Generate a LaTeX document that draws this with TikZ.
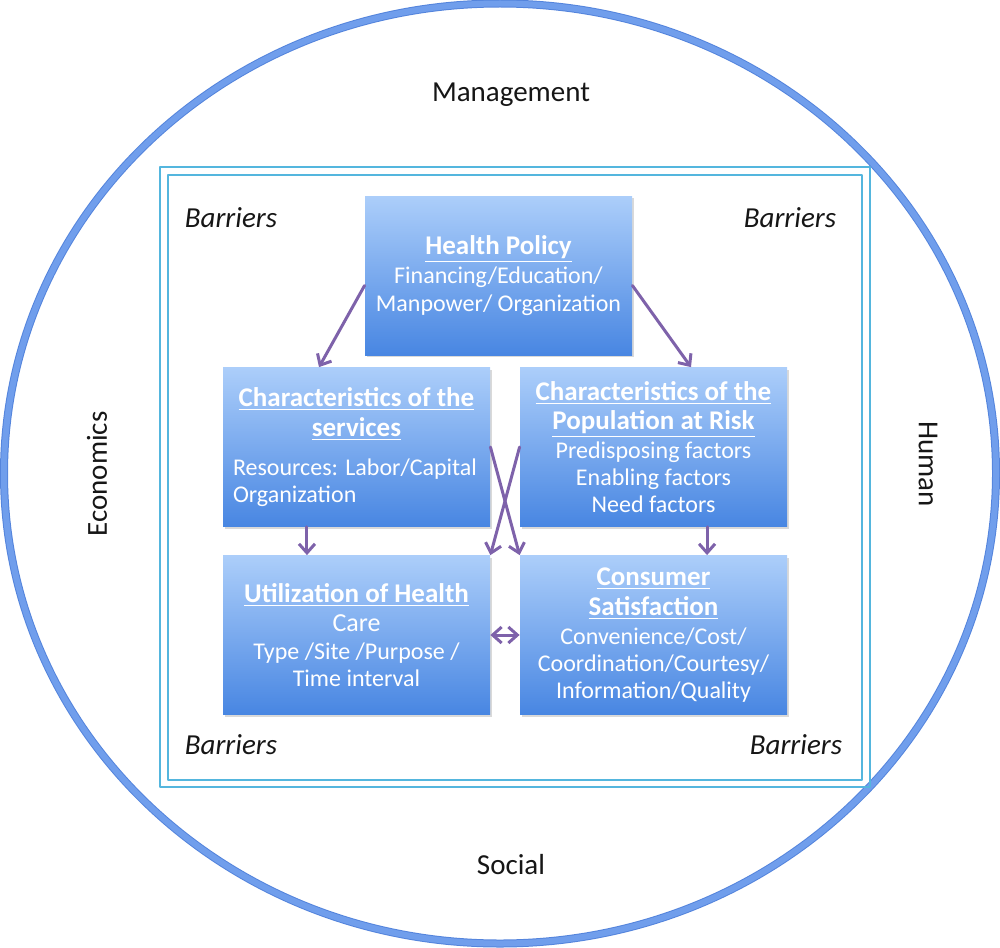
\documentclass[tikz,border=0pt]{standalone}
\usepackage{fontspec}
\setmainfont{Carlito}
\usetikzlibrary{arrows.meta,calc,shadows}
\definecolor{ring}{RGB}{112,158,236}
\definecolor{ringrand}{RGB}{84,132,220}
\definecolor{rahmen}{RGB}{84,182,222}
\definecolor{boxtop}{RGB}{172,206,250}
\definecolor{boxbot}{RGB}{72,134,226}
\definecolor{lila}{RGB}{126,98,170}
\definecolor{txt}{RGB}{22,22,22}
\newcommand{\kopf}[1]{{\fontsize{13.5}{14.5}\selectfont\bfseries\underline{#1}}}
\tikzset{
  every picture/.style={line cap=round, line join=round,
    >={Straight Barb[length=4.5pt,width=8pt]}},
  % Kästen
  feld/.style={rectangle, minimum width=133.5pt, minimum height=79.5pt,
    top color=boxtop, bottom color=boxbot, text=white, inner sep=2pt,
    drop shadow={opacity=0.3, shadow xshift=1pt, shadow yshift=-1.2pt},
    font=\fontsize{12}{13.6}\selectfont, align=center},
  % Pfeile
  pfeil/.style={lila, line width=1.5pt, ->},
  % Beschriftung
  aussen/.style={txt, font=\fontsize{14.5}{16}\selectfont},
  barriere/.style={txt, font=\fontsize{14.5}{16}\selectfont\itshape},
}
\begin{document}
\begin{tikzpicture}[x=0.5pt, y=-0.5pt]
  \useasboundingbox (0,0) rectangle (1000,947);
  % Ring und Doppelrahmen
  \draw[ringrand, line width=4pt] (500,473.5) ellipse[x radius=248pt, y radius=235pt];
  \draw[ring, line width=3pt] (500,473.5) ellipse[x radius=248pt, y radius=235pt];
  \draw[rahmen, line width=1.1pt] (160,167) rectangle (870,787);
  \draw[rahmen, line width=1.1pt] (168,175) rectangle (862,780);
  % Einflussbereiche
  \node[aussen] (mgmt) at (511,95) {Management};
  \node[aussen] (soc) at (511,865) {Social};
  \node[aussen, rotate=90] (eco) at (97,474) {Economics};
  \node[aussen, rotate=-90] (hum) at (928,464) {Human};
  \node[barriere] (b1) at (231,218) {Barriers};
  \node[barriere] (b2) at (790,218) {Barriers};
  \node[barriere] (b3) at (231,745) {Barriers};
  \node[barriere] (b4) at (796,745) {Barriers};
  % Kästen
  \node[feld] (hp) at (498.5,275.5) {\kopf{Health Policy}\\[1pt] Financing/Education/\\ Manpower/ Organization};
  \node[feld] (svc) at (356.5,447) {\kopf{Characteristics of the}\\[1.5pt] \kopf{services}\\[5.5pt]
    \makebox[123.5pt][l]{Resources: Labor/Capital}\\ \makebox[123.5pt][l]{Organization}};
  \node[feld] (pop) at (653.5,447) {\kopf{Characteristics of the}\\[1pt] \kopf{Population at Risk}\\[1pt]
    Predisposing factors\\ Enabling factors\\ Need factors};
  \node[feld] (util) at (356.5,635) {\kopf{Utilization of Health}\\[1pt] {\fontsize{13}{14.5}\selectfont Care}\\
    Type /Site /Purpose /\\ Time interval};
  \node[feld] (cons) at (653.5,635) {\kopf{Consumer}\\[1.5pt] \kopf{Satisfaction}\\[1pt] Convenience/Cost/\\
    Coordination/Courtesy/\\ Information/Quality};
  % Verbindungen
  \draw[pfeil] ([yshift=-5pt]hp.west) -- ($(svc.north west)!0.36!(svc.north east)$);
  \draw[pfeil] ([yshift=-5pt]hp.east) -- ($(pop.north west)!0.64!(pop.north east)$);
  \draw[pfeil] ($(svc.south west)!0.315!(svc.south east)$) -- ($(util.north west)!0.315!(util.north east)$);
  \draw[pfeil] ($(pop.south west)!0.70!(pop.south east)$) -- ($(cons.north west)!0.70!(cons.north east)$);
  \draw[pfeil] (svc.east) -- (cons.north west);
  \draw[pfeil] (pop.west) -- (util.north east);
  \draw[pfeil, <->] (util.east) -- (cons.west);
\end{tikzpicture}
\end{document}
